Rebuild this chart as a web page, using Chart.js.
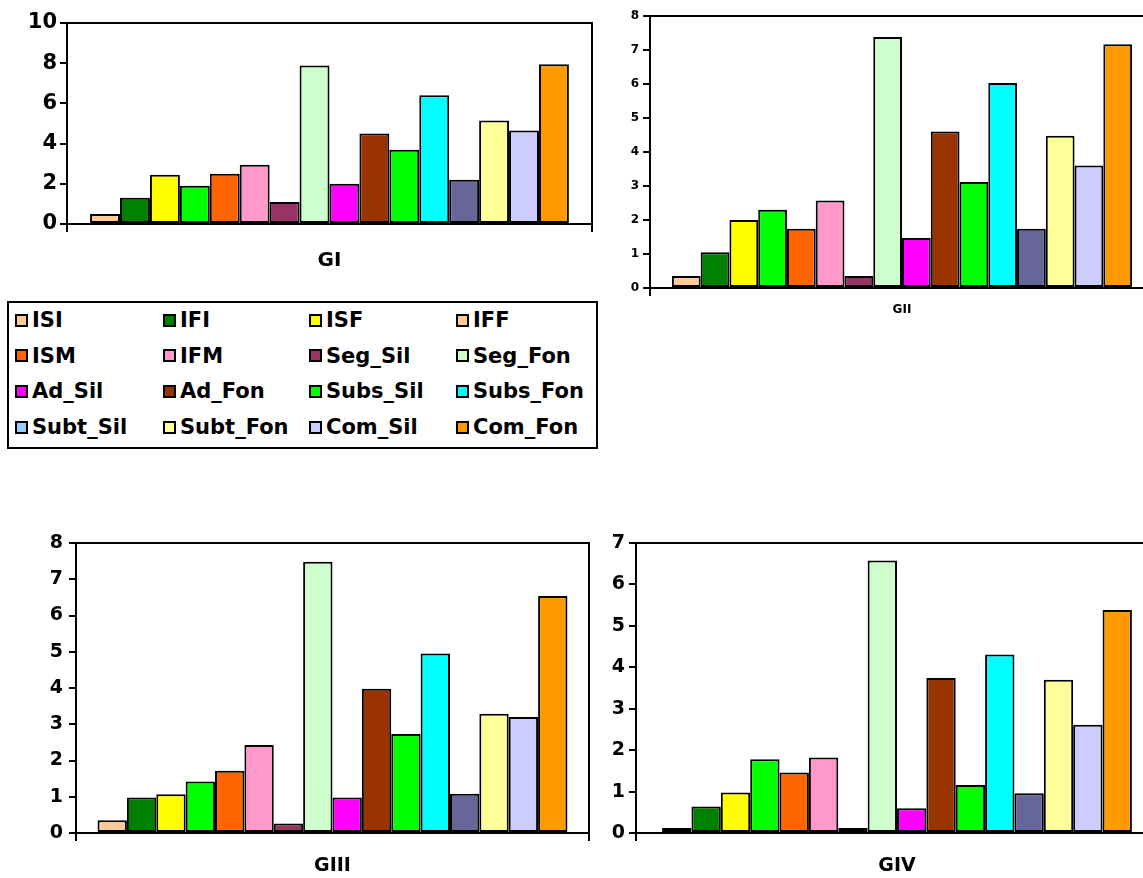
<!DOCTYPE html>
<html>
<head>
<meta charset="utf-8">
<script src="https://cdn.jsdelivr.net/npm/chart.js@4/dist/chart.umd.min.js"></script>
<style>
html, body { margin: 0; padding: 0; background: #fff; overflow: hidden; width: 1143px; height: 878px; }
canvas { position: absolute; }
#legend {
    position: absolute; left: 7px; top: 301px; width: 587px; height: 144px;
    border: 2px solid #000; font: bold 21px "DejaVu Sans", sans-serif; color: #000;
}
.item { position: absolute; height: 24px; display: flex; align-items: center; white-space: nowrap; }
.sw { width: 13px; height: 13px; box-sizing: border-box; border: 2px solid #000; margin-right: 4px; }
</style>
</head>
<body>
<div id="legend"></div>
<script>
// Series (one bar each) and colours
const seriesNames = ['ISI', 'IFI', 'ISF', 'IFF', 'ISM', 'IFM', 'Seg_Sil', 'Seg_Fon',
    'Ad_Sil', 'Ad_Fon', 'Subs_Sil', 'Subs_Fon', 'Subt_Sil', 'Subt_Fon', 'Com_Sil', 'Com_Fon'];
const barColors = ['#FFCC99', '#008000', '#FFFF00', '#00FF00', '#FF6600', '#FF99CC', '#993366', '#CCFFCC',
    '#FF00FF', '#993300', '#00FF00', '#00FFFF', '#666699', '#FFFF99', '#CCCCFF', '#FF9900'];
const legendColors = ['#FFCC99', '#008000', '#FFFF00', '#FFCC99', '#FF6600', '#FF99CC', '#993366', '#CCFFCC',
    '#FF00FF', '#993300', '#00FF00', '#00FFFF', '#99CCFF', '#FFFF99', '#CCCCFF', '#FF9900'];

// Values per group
const valuesGI   = [0.5, 1.3, 2.45, 1.9, 2.5, 2.95, 1.1, 7.88, 2.0, 4.5, 3.7, 6.4, 2.2, 5.15, 4.65, 7.95];
const valuesGII  = [0.35, 1.05, 2.0, 2.3, 1.74, 2.57, 0.35, 7.38, 1.47, 4.6, 3.12, 6.03, 1.74, 4.48, 3.6, 7.17];
const valuesGIII = [0.35, 0.98, 1.07, 1.42, 1.72, 2.43, 0.26, 7.48, 0.98, 3.98, 2.73, 4.95, 1.08, 3.29, 3.2, 6.54];
const valuesGIV  = [0.12, 0.64, 0.98, 1.78, 1.46, 1.82, 0.12, 6.58, 0.6, 3.74, 1.16, 4.31, 0.96, 3.7, 2.61, 5.38];

// Axis settings
const groupTitles = ['GI', 'GII', 'GIII', 'GIV'];
const yMax = [10, 8, 8, 7];
const yStep = [2, 1, 1, 1];

// Draws the top and right edges of the plot area
const plotFrame = {
    id: 'plotFrame',
    afterDraw(chart) {
        const { ctx, chartArea: a } = chart;
        ctx.save();
        ctx.strokeStyle = '#000';
        ctx.lineWidth = 2;
        ctx.beginPath();
        ctx.moveTo(a.left, a.top);
        ctx.lineTo(a.right, a.top);
        ctx.lineTo(a.right, a.bottom);
        ctx.stroke();
        ctx.restore();
    }
};

function createGroupChart(box, values, index) {
    const canvas = document.createElement('canvas');
    canvas.width = box.w;
    canvas.height = box.h;
    canvas.style.left = box.x + 'px';
    canvas.style.top = box.y + 'px';
    canvas.style.width = box.w + 'px';
    canvas.style.height = box.h + 'px';
    document.body.appendChild(canvas);

    return new Chart(canvas.getContext('2d'), {
        type: 'bar',
        data: {
            labels: [''],
            datasets: seriesNames.map((name, i) => ({
                label: name,
                data: [values[i]],
                backgroundColor: barColors[i],
                borderColor: '#000',
                borderWidth: 2,
                borderSkipped: false
            }))
        },
        options: {
            responsive: false,
            animation: false,
            events: [],
            barPercentage: 1,
            categoryPercentage: box.cat,
            layout: { padding: { top: box.padTop, right: box.padRight, left: 0, bottom: 0 } },
            plugins: { legend: { display: false }, tooltip: { enabled: false } },
            scales: {
                x: {
                    offset: true,
                    grid: { drawOnChartArea: false, drawTicks: true, tickLength: 8, color: '#000', lineWidth: 2, offset: true },
                    border: { display: true, color: '#000', width: 2 },
                    ticks: { display: false },
                    title: {
                        display: true,
                        text: groupTitles[index],
                        color: '#000',
                        font: { family: 'DejaVu Sans', weight: 'bold', size: box.titleSize },
                        padding: { top: 0, bottom: box.titlePad }
                    },
                    afterFit(scale) { scale.height = box.xh; }
                },
                y: {
                    min: 0,
                    max: yMax[index],
                    ticks: {
                        stepSize: yStep[index],
                        color: '#000',
                        padding: box.tickPad,
                        font: { family: 'DejaVu Sans', weight: 'bold', size: box.tickSize }
                    },
                    grid: { drawOnChartArea: false, drawTicks: true, tickLength: 7, color: '#000', lineWidth: 2 },
                    border: { display: true, color: '#000', width: 2 },
                    afterFit(scale) { scale.width = box.yw; }
                }
            }
        },
        plugins: [plotFrame]
    });
}

const boxes = [
    { x: 0,   y: 0,   w: 620, h: 280, yw: 67, xh: 56, padTop: 23, padRight: 28, cat: 0.912, tickSize: 21, tickPad: 3, titleSize: 20, titlePad: 7 },
    { x: 590, y: 0,   w: 600, h: 330, yw: 60, xh: 42, padTop: 16, padRight: 36, cat: 0.913, tickSize: 12, tickPad: 4, titleSize: 12, titlePad: 13 },
    { x: 0,   y: 520, w: 620, h: 358, yw: 76, xh: 45, padTop: 23, padRight: 31, cat: 0.916, tickSize: 19, tickPad: 6, titleSize: 19, titlePad: 1 },
    { x: 580, y: 520, w: 600, h: 358, yw: 56, xh: 45, padTop: 23, padRight: 22, cat: 0.90,  tickSize: 19, tickPad: 4, titleSize: 19, titlePad: 1 }
];
[valuesGI, valuesGII, valuesGIII, valuesGIV].forEach((vals, i) => createGroupChart(boxes[i], vals, i));

// Legend box below GI
const legend = document.getElementById('legend');
const colLeft = [6, 154, 300, 447];
seriesNames.forEach((name, i) => {
    const item = document.createElement('div');
    item.className = 'item';
    item.style.left = colLeft[i % 4] + 'px';
    item.style.top = (5 + Math.floor(i / 4) * 35.7) + 'px';
    const sw = document.createElement('span');
    sw.className = 'sw';
    sw.style.background = legendColors[i];
    item.appendChild(sw);
    item.appendChild(document.createTextNode(name));
    legend.appendChild(item);
});
</script>
</body>
</html>
